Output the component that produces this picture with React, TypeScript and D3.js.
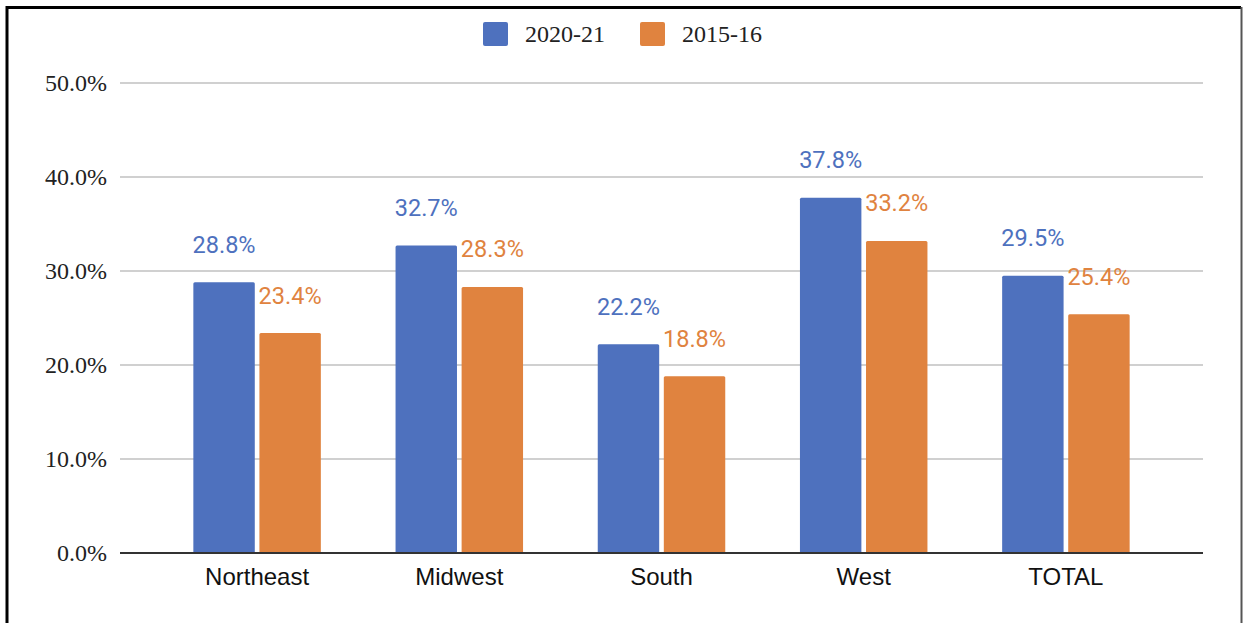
import React from "react";
import * as d3 from "d3";

const categories = ["Northeast", "Midwest", "South", "West", "TOTAL"];
const seriesNames = ["2020-21", "2015-16"];
const values2020 = [28.8, 32.7, 22.2, 37.8, 29.5];
const values2015 = [23.4, 28.3, 18.8, 33.2, 25.4];
const yTicks = [0, 10, 20, 30, 40, 50];
const colors = ["#4e71be", "#e0833f"];

const W = 1243;
const H = 623;

export default function App() {
  const y = d3.scaleLinear().domain([0, 50]).range([553, 83]);
  const x0 = d3.scaleBand<string>().domain(categories).range([156, 1167]).paddingInner(0).paddingOuter(0);
  const groupW = 127.5;
  const x1 = d3.scaleBand<number>().domain([0, 1]).range([0, groupW]).paddingInner(0.07);
  const series = [values2020, values2015];

  return (
    <svg width={W} height={H} style={{ position: "absolute", left: 0, top: 0, background: "#fff" }}>
      <rect x={0} y={0} width={W} height={H} fill="#fff" />
      {/* border */}
      <line x1={7} y1={7.5} x2={1241} y2={7.5} stroke="#000" strokeWidth={3} />
      <line x1={7} y1={6} x2={7} y2={H} stroke="#000" strokeWidth={3} />
      <line x1={1241.5} y1={7} x2={1241.5} y2={H} stroke="#555" strokeWidth={2} />

      {/* legend */}
      {seriesNames.map((s, i) => {
        const lx = i === 0 ? 483 : 640;
        return (
          <g key={s}>
            <rect x={lx} y={22} width={25} height={24} rx={2} fill={colors[i]} />
            <text x={lx + 42} y={42} fontFamily="'Liberation Serif', 'Times New Roman', serif" fontSize={24} fill="#222">
              {s}
            </text>
          </g>
        );
      })}

      {/* grid */}
      {yTicks.map((t) => (
        <g key={t}>
          {t !== 0 && (
            <line x1={120} x2={1203} y1={y(t)} y2={y(t)} stroke="#d0d0d0" strokeWidth={2} />
          )}
          <text
            x={107}
            y={y(t) + 7.5}
            textAnchor="end"
            fontFamily="'Liberation Serif', 'Times New Roman', serif"
            fontSize={24}
            fill="#222"
          >
            {t.toFixed(1) + "%"}
          </text>
        </g>
      ))}

      {/* bars */}
      {categories.map((c, ci) => {
        const gx = (x0(c) as number) + x0.bandwidth() / 2 - groupW / 2;
        return (
          <g key={c}>
            {series.map((vals, si) => {
              const bx = gx + (x1(si) as number);
              const bw = x1.bandwidth();
              const v = vals[ci];
              return (
                <g key={si}>
                  <rect x={bx} y={y(v)} width={bw} height={y(0) - y(v)} fill={colors[si]} rx={1.5} />
                  <text
                    x={bx + bw / 2}
                    y={y(v) - 29.5}
                    textAnchor="middle"
                    fontFamily="Roboto, Arial, sans-serif"
                    fontSize={23.5}
                    fill={colors[si]}
                  >
                    {v.toFixed(1) + "%"}
                  </text>
                </g>
              );
            })}
            <text
              x={(x0(c) as number) + x0.bandwidth() / 2}
              y={585}
              textAnchor="middle"
              fontFamily="'Liberation Sans', Arial, sans-serif"
              fontSize={24}
              fill="#111"
            >
              {c}
            </text>
          </g>
        );
      })}

      {/* baseline */}
      <line x1={120} x2={1203} y1={553} y2={553} stroke="#333" strokeWidth={2} />
    </svg>
  );
}
